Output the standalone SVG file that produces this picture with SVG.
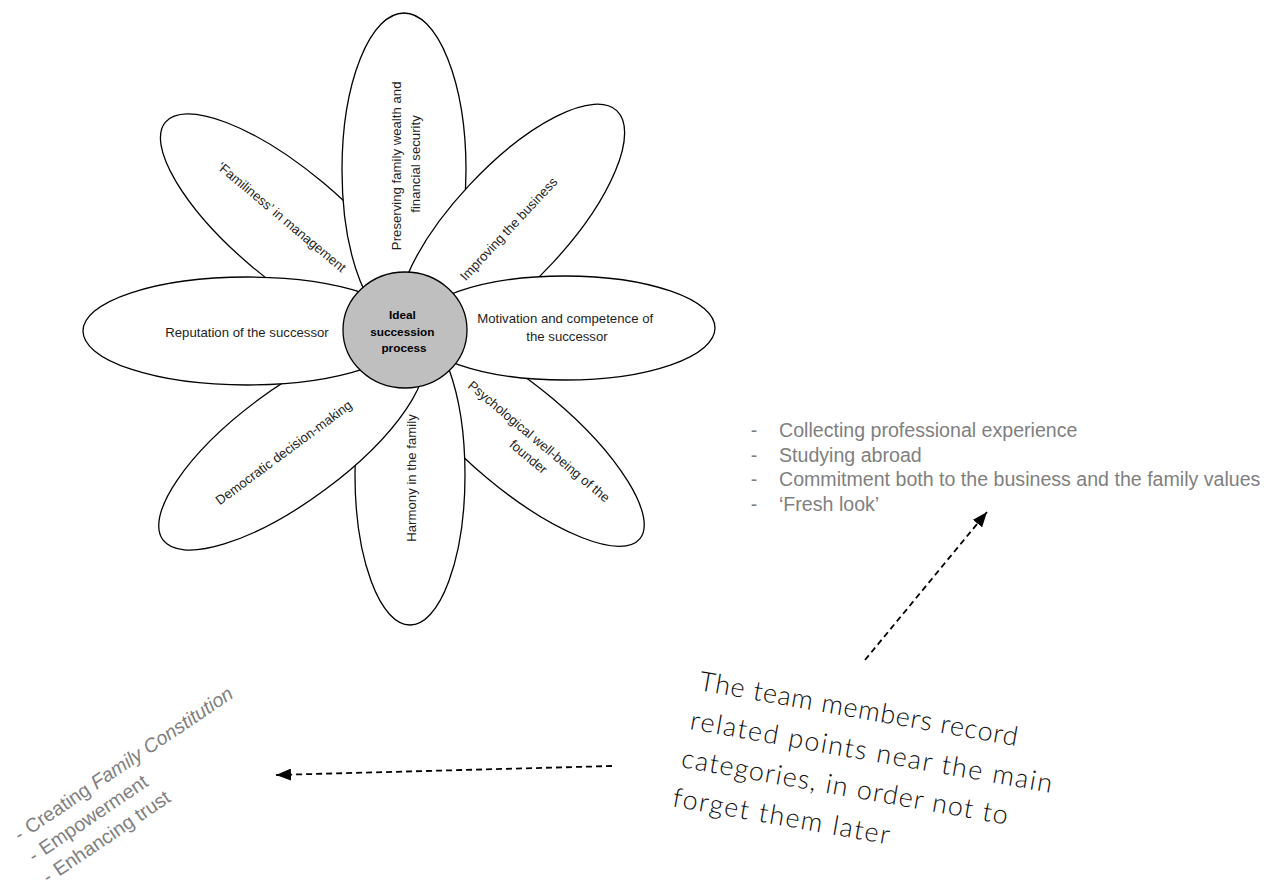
<svg xmlns="http://www.w3.org/2000/svg" width="1277" height="888" viewBox="0 0 1277 888">
  <defs>
    <marker id="head" markerWidth="15" markerHeight="12" refX="15" refY="6" orient="auto" markerUnits="userSpaceOnUse">
      <path d="M0,0 L15,6 L0,12 Z" fill="#000"/>
    </marker>
    <style>
      .petal { fill: #ffffff; stroke: #000000; stroke-width: 1.3; }
      .hub { fill: #bfbfbf; stroke: #000000; stroke-width: 1.3; }
      .lbl { font-family: "Liberation Sans", Arial, sans-serif; font-size: 13.2px; fill: #1e1e1e; text-anchor: middle; }
      .hubtxt { font-family: "Liberation Sans", Arial, sans-serif; font-size: 11.8px; font-weight: bold; fill: #000; text-anchor: middle; }
      .note { font-family: "Liberation Sans", Arial, sans-serif; font-size: 19.6px; fill: #7f7f7f; }
      .hand { font-family: Lato, "Liberation Sans", sans-serif; font-weight: 300; font-size: 27px; fill: #111; }
      .link { fill: none; stroke: #000; stroke-width: 1.8; stroke-dasharray: 6 4; }
    </style>
  </defs>
  <rect width="1277" height="888" fill="#ffffff"/>

  <!-- petals, back to front -->
  <g id="petal-familiness">
    <ellipse class="petal" cx="288" cy="225" rx="160" ry="55" transform="rotate(40 288 225)"/>
    <text class="lbl" transform="translate(279 220.5) rotate(40)">‘Familiness’ in management</text>
  </g>
  <g id="petal-wealth">
    <ellipse class="petal" cx="404" cy="170" rx="62" ry="157"/>
    <text class="lbl" transform="translate(401 164) rotate(-90)">
      <tspan x="0" y="0">Preserving family wealth and</tspan>
      <tspan x="0" y="18.5">financial security</tspan>
    </text>
  </g>
  <g id="petal-improving">
    <ellipse class="petal" cx="511" cy="224" rx="155" ry="57" transform="rotate(-47 511 224)"/>
    <text class="lbl" transform="translate(512 232) rotate(-47)">Improving the business</text>
  </g>
  <g id="petal-psychological">
    <ellipse class="petal" cx="519.5" cy="438" rx="157" ry="51.5" transform="rotate(40 519.5 438)"/>
    <text class="lbl" transform="translate(537.4 446.1) rotate(40)">
      <tspan x="0" y="0">Psychological well-being of the</tspan>
      <tspan x="0" y="18.5">founder</tspan>
    </text>
  </g>
  <g id="petal-harmony">
    <ellipse class="petal" cx="410" cy="475" rx="55" ry="150"/>
    <text class="lbl" transform="translate(416 478) rotate(-90)">Harmony in the family</text>
  </g>
  <g id="petal-democratic">
    <ellipse class="petal" cx="291.6" cy="444.8" rx="160" ry="56" transform="rotate(-36.5 291.6 444.8)"/>
    <text class="lbl" transform="translate(286.4 456.2) rotate(-36.5)">Democratic decision-making</text>
  </g>
  <g id="petal-motivation">
    <ellipse class="petal" cx="565" cy="328" rx="150" ry="52"/>
    <text class="lbl">
      <tspan x="567" y="323">Motivation and competence of</tspan>
      <tspan x="567" y="341">the successor</tspan>
    </text>
  </g>
  <g id="petal-reputation">
    <ellipse class="petal" cx="247" cy="331" rx="164" ry="54"/>
    <text class="lbl" x="247" y="337">Reputation of the successor</text>
  </g>

  <!-- centre of the flower -->
  <g id="hub">
    <ellipse class="hub" cx="405" cy="330" rx="62" ry="58"/>
    <text class="hubtxt">
      <tspan x="404" y="319">Ideal</tspan>
      <tspan x="404" y="336">succession</tspan>
      <tspan x="404" y="352">process</tspan>
    </text>
  </g>

  <!-- notes attached to the motivation petal -->
  <g id="notes-motivation" class="note">
    <text x="750.8" y="437">-</text>
    <text x="779" y="437">Collecting professional experience</text>
    <text x="750.8" y="461.5">-</text>
    <text x="779" y="461.5">Studying abroad</text>
    <text x="750.8" y="486">-</text>
    <text x="779" y="486">Commitment both to the business and the family values</text>
    <text x="750.8" y="510.5">-</text>
    <text x="779" y="510.5">‘Fresh look’</text>
  </g>

  <!-- notes attached to the democratic decision-making petal -->
  <g id="notes-democratic" class="note" transform="translate(19.7 841.8) rotate(-34)">
    <text x="0" y="0">-</text>
    <text x="13" y="0">Creating <tspan font-style="italic">Family Constitution</tspan></text>
    <text x="0" y="25.5">-</text>
    <text x="13" y="25.5">Empowerment</text>
    <text x="0" y="51">-</text>
    <text x="13" y="51">Enhancing trust</text>
  </g>

  <!-- handwritten remark -->
  <g id="remark" class="hand" transform="translate(698 690) rotate(10)">
    <text x="0" y="0" textLength="323" lengthAdjust="spacing">The team members record</text>
    <text x="-2" y="40" textLength="367" lengthAdjust="spacing">related points near the main</text>
    <text x="-4" y="79" textLength="331" lengthAdjust="spacing">categories, in order not to</text>
    <text x="-6" y="119" textLength="220" lengthAdjust="spacing">forget them later</text>
  </g>

  <!-- connectors -->
  <g id="connectors">
    <line class="link" x1="865" y1="660" x2="987" y2="512" marker-end="url(#head)"/>
    <line class="link" x1="612" y1="766" x2="276" y2="775" marker-end="url(#head)"/>
  </g>
</svg>
